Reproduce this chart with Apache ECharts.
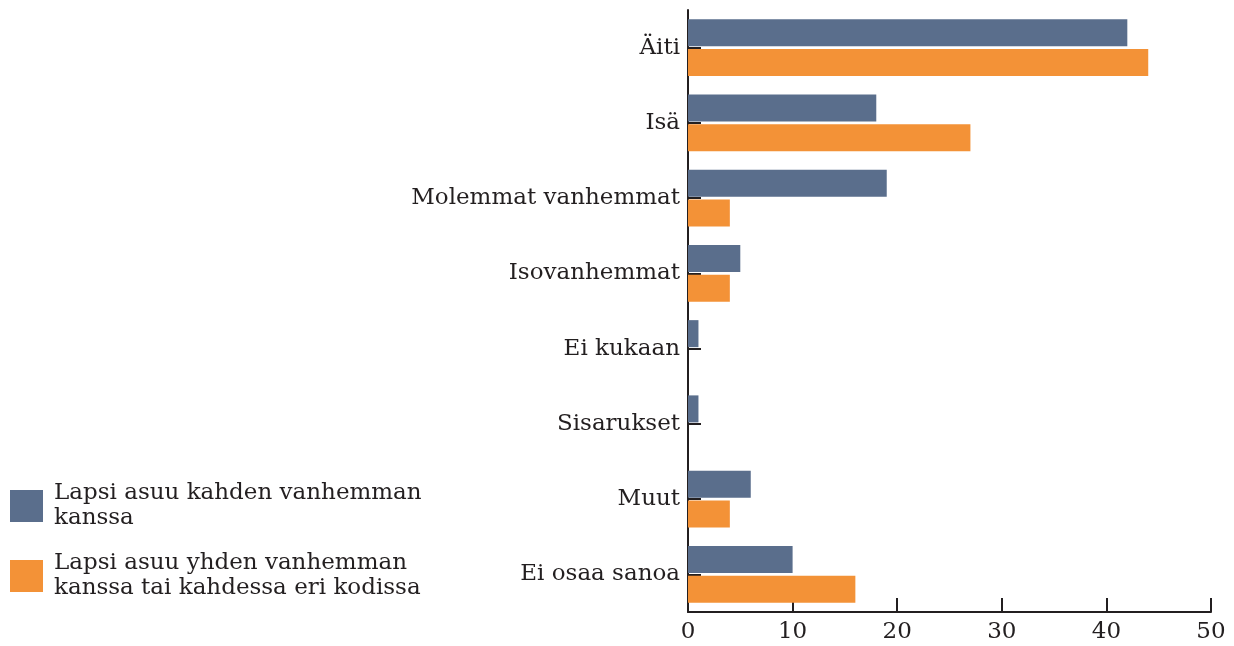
<!DOCTYPE html>
<html>
<head>
<meta charset="utf-8">
<script src="https://cdn.jsdelivr.net/npm/echarts@6/dist/echarts.min.js"></script>
<style>
  html, body { margin: 0; padding: 0; background: #fff; }
  #chart { width: 1234px; height: 646px; }
</style>
</head>
<body>
<div id="chart"></div>
<script>
const categories = ["Äiti", "Isä", "Molemmat vanhemmat", "Isovanhemmat", "Ei kukaan", "Sisarukset", "Muut", "Ei osaa sanoa"]
const seriesNames = ["Lapsi asuu kahden vanhemman\nkanssa", "Lapsi asuu yhden vanhemman\nkanssa tai kahdessa eri kodissa"]
const twoParents = [42, 18, 19, 5, 1, 1, 6, 10]
const oneParent = [44, 27, 4, 4, 0, 0, 4, 16]
const xTicks = [0, 10, 20, 30, 40, 50]

const font = "DejaVu Serif"
const ink = "#231f20"

const chart = echarts.init(document.getElementById("chart"))
const option = {
  animation: false,
  backgroundColor: "#fff",
  textStyle: { fontFamily: font, color: ink },
  legend: {
    orient: "vertical",
    left: 5,
    top: 476,
    itemWidth: 33,
    itemHeight: 32,
    itemGap: 20,
    icon: "rect",
    textStyle: {
      fontFamily: font,
      fontSize: 23,
      lineHeight: 25,
      color: ink,
      padding: [0, 0, 0, 6],
    },
    data: seriesNames,
  },
  grid: {
    left: 688,
    right: 23,
    top: 10,
    bottom: 34,
  },
  xAxis: {
    type: "value",
    min: xTicks[0],
    max: xTicks[xTicks.length - 1],
    interval: 10,
    axisLine: { show: true, lineStyle: { color: ink, width: 2 } },
    axisTick: { show: true, inside: true, length: 14, lineStyle: { color: ink, width: 2 } },
    axisLabel: { color: ink, fontSize: 23, fontFamily: font, margin: 9 },
    splitLine: { show: false },
  },
  yAxis: {
    type: "category",
    inverse: true,
    data: categories,
    axisLine: { show: true, lineStyle: { color: ink, width: 2 } },
    axisTick: { show: true, inside: true, alignWithLabel: true, length: 13, lineStyle: { color: ink, width: 2 } },
    axisLabel: { color: ink, fontSize: 23, fontFamily: font, margin: 8 },
  },
  series: [
    {
      name: seriesNames[0],
      type: "bar",
      data: twoParents,
      barWidth: 27,
      barGap: "11%",
      itemStyle: { color: "#5a6e8c" },
    },
    {
      name: seriesNames[1],
      type: "bar",
      data: oneParent,
      barWidth: 27,
      itemStyle: { color: "#f39237" },
    },
  ],
}
chart.setOption(option)
</script>
</body>
</html>
